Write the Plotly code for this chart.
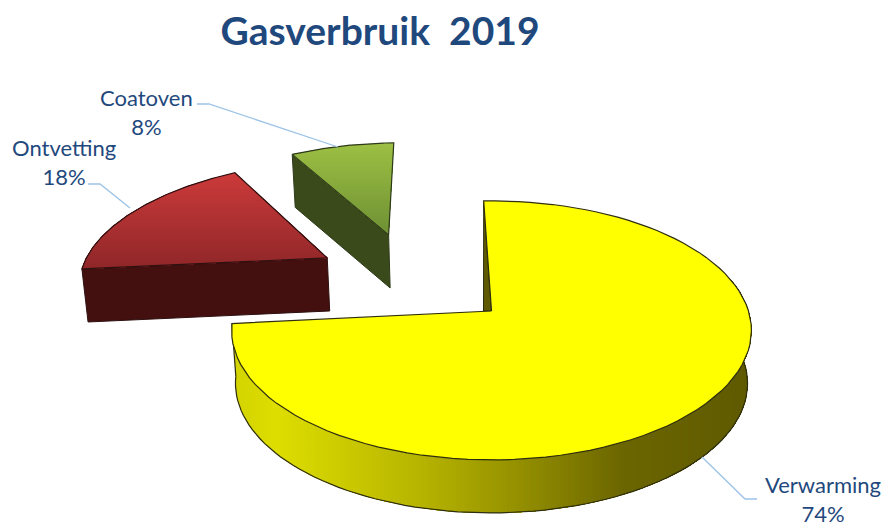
import math
import plotly.graph_objects as go

# ---- data ----
categories = ["Verwarming", "Ontvetting", "Coatoven"]
values = [74, 18, 8]

# ---- style / view parameters (one tilted-disc projection shared by all slices) ----
first_angle = -2.0
explode_u = [0.0, -0.682, -0.44]
explode_v = [0.0, 0.447, 0.66]
CX, CY, SX, SY, PERSP = 491.5, 311.0, 257.0, 126.6, 0.15
DEPTH, DEPTH_SCALE = 53.0, 0.985
TEXT = "#1f497d"
LEADER = "#9dc3e6"
top_stops = [
    [(0, "#ffff00"), (1, "#ffff00")],
    [(0, "#cc3b3b"), (1, "#8f2729")],
    [(0, "#9cc044"), (1, "#6f9034")],
]
wall_stops = [(0, "#d4d400"), (0.08, "#dede00"), (0.35, "#b9b600"), (0.55, "#949000"), (0.75, "#6c6600"), (1, "#5f5a00")]
radial_wall = ["#5f5a00", "#43100f", "#3a4a1b"]
outline = ["#2e2e10", "#2e1010", "#2e3a1a"]
label_pos = [(823, 499), (64, 162), (146, 112)]
leaders = [([702, 745, 757], [457, 499, 499]), ([130, 100, 88], [208, 184, 184]), ([338, 209, 197], [147, 104, 104])]


def project(u, v):
    w = 1 + PERSP * v
    return CX + SX * u / w, CY - SY * v / w


def rim(i, a0, a1, n=90):
    pts = []
    for k in range(n + 1):
        t = math.radians(a0 + (a1 - a0) * k / n)
        pts.append(project(explode_u[i] + math.sin(t), explode_v[i] + math.cos(t)))
    return pts


def lower(p):
    return CX + (p[0] - CX) * DEPTH_SCALE, p[1] + DEPTH


def clip(poly, axis, lim, keep_above):
    out = []
    for j in range(len(poly)):
        a, b = poly[j], poly[(j + 1) % len(poly)]
        ia = a[axis] >= lim if keep_above else a[axis] <= lim
        ib = b[axis] >= lim if keep_above else b[axis] <= lim
        if ia:
            out.append(a)
        if ia != ib:
            f = (lim - a[axis]) / (b[axis] - a[axis])
            out.append((a[0] + (b[0] - a[0]) * f, a[1] + (b[1] - a[1]) * f))
    return out


def mix(stops, f):
    f = max(0, min(1, f))
    for (f0, c0), (f1, c1) in zip(stops, stops[1:]):
        if f <= f1:
            g = (f - f0) / (f1 - f0)
            rgb = [int(c0[m:m + 2], 16) * (1 - g) + int(c1[m:m + 2], 16) * g for m in (1, 3, 5)]
            return "rgb(%d,%d,%d)" % tuple(rgb)
    return stops[-1][1]


fig = go.Figure()


def fill(poly, color):
    fig.add_trace(go.Scatter(x=[p[0] for p in poly] + [poly[0][0]], y=[p[1] for p in poly] + [poly[0][1]],
                             mode="lines", fill="toself", fillcolor=color, line=dict(width=0),
                             hoverinfo="skip", showlegend=False))


def stroke(pts, color, width=1.2):
    fig.add_trace(go.Scatter(x=[p[0] for p in pts], y=[p[1] for p in pts], mode="lines",
                             line=dict(color=color, width=width), hoverinfo="skip", showlegend=False))


def graded(poly, axis, stops, step):
    lo = min(p[axis] for p in poly)
    hi = max(p[axis] for p in poly)
    b = lo
    while b < hi:
        # each band runs on to the far end, so the next one overlaps it and no seam shows
        piece = clip(poly, axis, b, True)
        if len(piece) >= 3:
            fill(piece, mix(stops, (b - lo) / (hi - lo)))
        b += step


angles = []
a = first_angle
for val in values:
    angles.append((a, a + val * 3.6))
    a += val * 3.6

for i in [1, 2, 0]:
    a0, a1 = angles[i]
    apex = project(explode_u[i], explode_v[i])
    arc = rim(i, a0, a1)
    top = [apex] + arc

    if i == 0:
        # outer wall, facing the viewer
        front = rim(i, 75, a1)
        wall = front + [lower(p) for p in reversed(front)]
        graded(wall, 0, wall_stops, 4)
        stroke([lower(p) for p in front], outline[i])
        stroke([arc[-1], lower(arc[-1])], outline[i])
        # narrow cut face seen beside the first radius
        sliver = [arc[0], apex, (apex[0] - 8, apex[1])]
        fill(sliver, radial_wall[i])
        stroke(sliver + [sliver[0]], outline[i], 1)
    else:
        # cut face turned to the viewer
        e = arc[0]
        cut = [e, apex, lower(apex), lower(e)]
        fill(cut, radial_wall[i])
        stroke(cut + [cut[0]], outline[i], 1)

    stops = top_stops[i]
    if i == 0:
        fill(top, stops[0][1])
    else:
        graded(top, 1, stops, 2)
    stroke(top + [top[0]], outline[i], 1.2)

for lx, ly in leaders:
    fig.add_trace(go.Scatter(x=lx, y=ly, mode="lines", line=dict(color=LEADER, width=1.3),
                             hoverinfo="skip", showlegend=False))

annotations = [
    dict(x=p[0], y=p[1], xref="x", yref="y", text=f"{c}<br>{v}%", showarrow=False, align="center",
         xanchor="center", yanchor="middle", font=dict(family="Lato, Open Sans, sans-serif", size=22, color=TEXT))
    for c, v, p in zip(categories, values, label_pos)
]

fig.update_layout(
    width=883, height=528, margin=dict(l=0, r=0, t=0, b=0),
    paper_bgcolor="white", plot_bgcolor="white", showlegend=False,
    title=dict(text="<b>Gasverbruik\u00a0 2019</b>", x=380 / 883, y=1 - 31 / 528, xanchor="center", yanchor="middle",
               xref="paper", yref="paper", font=dict(family="Lato, Open Sans, sans-serif", size=39, color=TEXT)),
    xaxis=dict(range=[0, 883], visible=False, fixedrange=True),
    yaxis=dict(range=[528, 0], visible=False, fixedrange=True),
    annotations=annotations,
)
fig.write_html("out.html", config=dict(displayModeBar=False),
               post_script="document.body.style.margin='0';document.documentElement.style.overflow='hidden';")
